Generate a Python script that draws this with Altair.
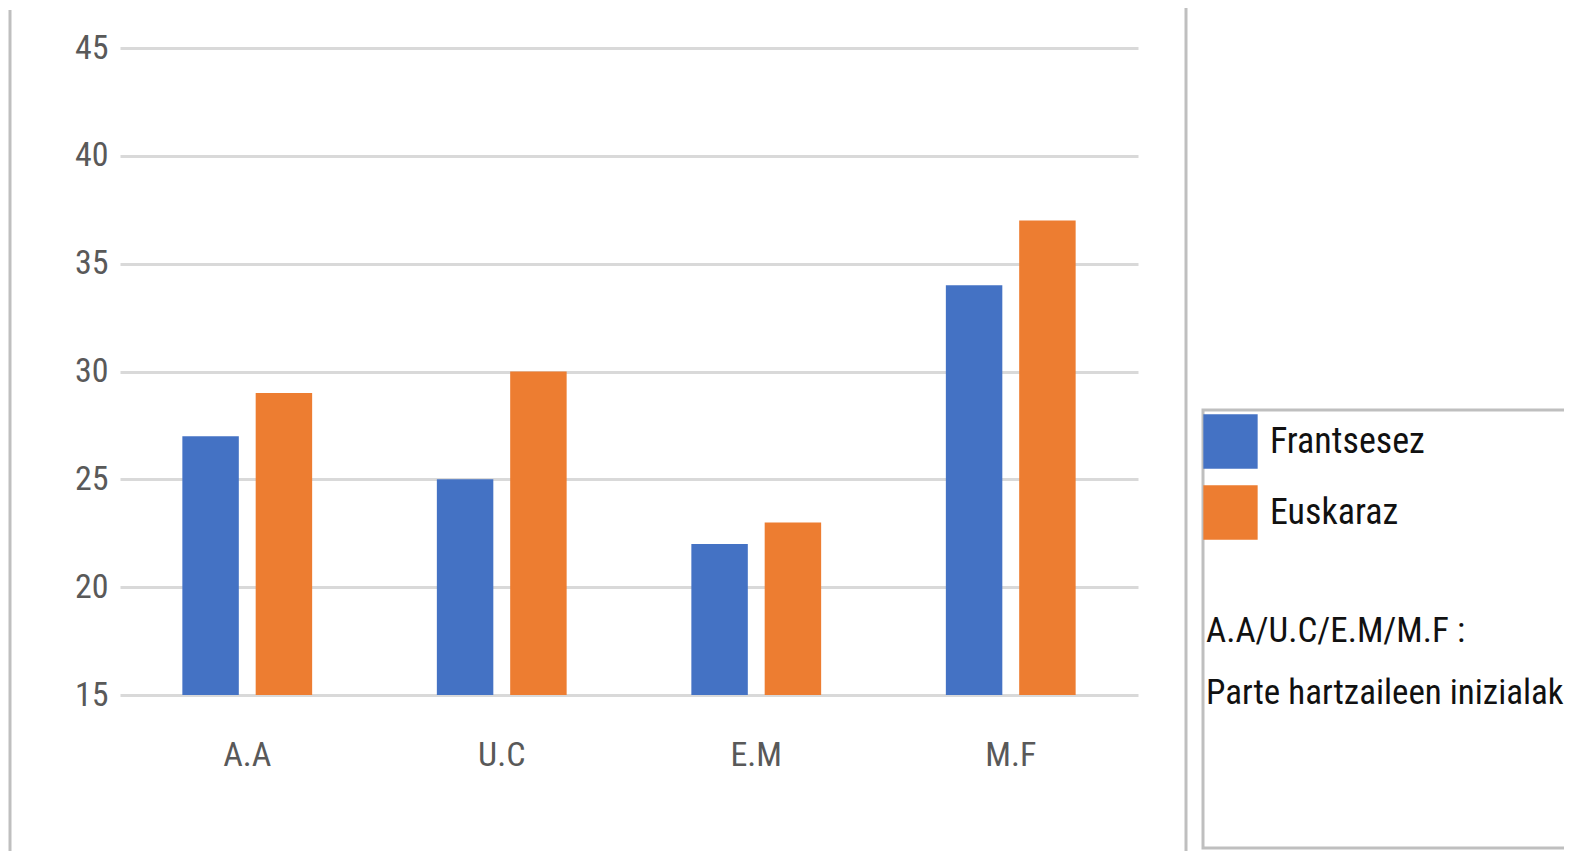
import altair as alt
import pandas as pd

categories = ["A.A", "U.C", "E.M", "M.F"]
series = ["Frantsesez", "Euskaraz"]
frantsesez = [27, 25, 22, 34]
euskaraz = [29, 30, 23, 37]
y_ticks = [15, 20, 25, 30, 35, 40, 45]
note_line1 = "A.A/U.C/E.M/M.F :"
note_line2 = "Parte hartzaileen inizialak"

rows = []
for i, c in enumerate(categories):
    rows.append({"cat": c, "lang": series[0], "val": frantsesez[i]})
    rows.append({"cat": c, "lang": series[1], "val": euskaraz[i]})
df = pd.DataFrame(rows)

FONT = "Roboto Condensed, Liberation Sans Narrow, Roboto, sans-serif"
GRID = "#d9d9d9"
FRAME = "#bfbfbf"

W, H = 1018, 647

bars = alt.Chart(df).mark_bar().encode(
    x=alt.X("cat:N", sort=categories, title=None,
            scale=alt.Scale(paddingInner=0.49, paddingOuter=0.245),
            axis=alt.Axis(labelAngle=0, labelFont=FONT, labelFontSize=34,
                          labelColor="#595959", labelPadding=43, ticks=False,
                          domain=False, grid=False)),
    xOffset=alt.XOffset("lang:N", sort=series,
                        scale=alt.Scale(paddingInner=0.23, paddingOuter=0)),
    y=alt.Y("val:Q", title=None,
            scale=alt.Scale(domain=[15, 45], nice=False, zero=False),
            axis=alt.Axis(values=y_ticks, labelFont=FONT, labelFontSize=34,
                          labelColor="#595959", labelPadding=12, ticks=False,
                          domain=False, grid=True, gridColor=GRID, gridWidth=3)),
    y2=alt.datum(15),
    color=alt.Color("lang:N", sort=series,
                    scale=alt.Scale(domain=series, range=["#4472C4", "#ED7D31"]),
                    legend=alt.Legend(title=None, orient="none", legendX=1083,
                                      legendY=366, padding=0, symbolType="square",
                                      symbolSize=2950, symbolStrokeWidth=0,
                                      labelFont=FONT, labelFontSize=36,
                                      labelColor="#111111", labelOffset=12,
                                      rowPadding=16, labelLimit=400)),
)

one = alt.Data(values=[{"k": 0}])

left_frame = alt.Chart(one).mark_rule(color=FRAME, strokeWidth=3).encode(
    x=alt.value(-110), y=alt.value(-38), y2=alt.value(900))
right_frame = alt.Chart(one).mark_rule(color=FRAME, strokeWidth=3).encode(
    x=alt.value(1066), y=alt.value(-40), y2=alt.value(900))
legend_box = alt.Chart(one).mark_rect(fill=None, stroke=FRAME, strokeWidth=3).encode(
    x=alt.value(1083), x2=alt.value(1500), y=alt.value(362), y2=alt.value(800))

note1 = alt.Chart(one).mark_text(align="left", baseline="middle", font=FONT,
                                 fontSize=35, color="#111111").encode(
    x=alt.value(1086), y=alt.value(583), text=alt.value(note_line1))
note2 = alt.Chart(one).mark_text(align="left", baseline="middle", font=FONT,
                                 fontSize=35, color="#111111").encode(
    x=alt.value(1086), y=alt.value(645), text=alt.value(note_line2))

chart = alt.layer(legend_box, bars, left_frame, right_frame, note1, note2).properties(
    width=W, height=H,
    background="white",
    autosize=alt.AutoSizeParams(type="none"),
    padding={"left": 112, "top": 40, "right": 1556 - 112 - W, "bottom": 843 - 40 - H},
).configure_view(strokeWidth=0, stroke="transparent")

chart.save("out.html", embed_options={"renderer": "svg", "actions": False})
